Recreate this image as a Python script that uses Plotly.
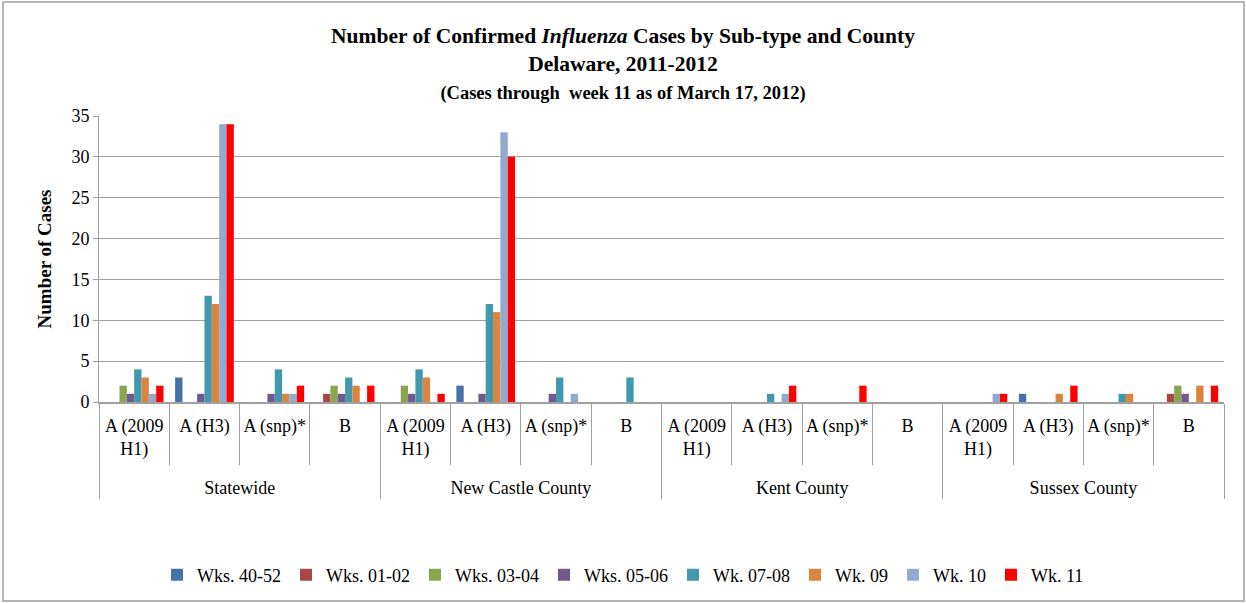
import plotly.graph_objects as go

counties = ["Statewide", "New Castle County", "Kent County", "Sussex County"]
subtypes = ["A (2009<br>H1)<br>\u00a0", "A (H3)", "A (snp)*", "B"]

series_names = ["Wks. 40-52", "Wks. 01-02", "Wks. 03-04", "Wks. 05-06",
                "Wk. 07-08", "Wk. 09", "Wk. 10", "Wk. 11"]
colors = ["#4572A7", "#AA4643", "#89A54E", "#71588F",
          "#4198AF", "#DB843D", "#93A9CF", "#FF0000"]

# values ordered: Statewide(4 subtypes), New Castle(4), Kent(4), Sussex(4)
wks_40_52 = [0, 3, 0, 0,  0, 2, 0, 0,  0, 0, 0, 0,  0, 1, 0, 0]
wks_01_02 = [0, 0, 0, 1,  0, 0, 0, 0,  0, 0, 0, 0,  0, 0, 0, 1]
wks_03_04 = [2, 0, 0, 2,  2, 0, 0, 0,  0, 0, 0, 0,  0, 0, 0, 2]
wks_05_06 = [1, 1, 1, 1,  1, 1, 1, 0,  0, 0, 0, 0,  0, 0, 0, 1]
wk_07_08 = [4, 13, 4, 3,  4, 12, 3, 3,  0, 1, 0, 0,  0, 0, 1, 0]
wk_09 = [3, 12, 1, 2,  3, 11, 0, 0,  0, 0, 0, 0,  0, 1, 1, 2]
wk_10 = [1, 34, 1, 0,  0, 33, 1, 0,  0, 1, 0, 0,  1, 0, 0, 0]
wk_11 = [2, 34, 2, 2,  1, 30, 0, 0,  0, 2, 2, 0,  1, 2, 0, 2]

all_series = [wks_40_52, wks_01_02, wks_03_04, wks_05_06, wk_07_08, wk_09, wk_10, wk_11]

outer = [c for c in counties for _ in subtypes]
inner = [s for _ in counties for s in subtypes]

SERIF = "Liberation Serif"

fig = go.Figure()
for name, vals, col in zip(series_names, all_series, colors):
    fig.add_trace(go.Bar(x=[outer, inner], y=vals, name=name,
                         marker=dict(color=col, line=dict(width=0))))

fig.update_layout(
    width=1246, height=603,
    barmode="group", bargap=0.165, bargroupgap=0,
    paper_bgcolor="white", plot_bgcolor="white",
    margin=dict(l=99, r=22, t=116, b=201),
    font=dict(family=SERIF, size=17, color="black"),
    title=dict(
        text="<b>Number of Confirmed <i>Influenza</i> Cases by Sub-type and County<br>"
             "Delaware, 2011-2012<br>"
             "<span style='font-size:18.5px'>(Cases through  week 11 as of March 17, 2012)</span></b>",
        x=0.5, xanchor="center", xref="container",
        y=1 - 43 / 603, yanchor="top", yref="container",
        font=dict(family=SERIF, size=21.5, color="black"),
    ),
    legend=dict(orientation="h", xref="container", yref="container",
                x=0.5, xanchor="center", y=1 - 575 / 603, yanchor="middle",
                font=dict(family=SERIF, size=18), itemwidth=30,
                traceorder="normal"),
    showlegend=True,
)

fig.update_yaxes(
    range=[0, 35], dtick=5, showgrid=True, gridcolor="#A0A0A0", gridwidth=1,
    showline=True, linecolor="#A0A0A0", linewidth=1,
    ticks="outside", ticklen=5, tickcolor="#A0A0A0",
    tickfont=dict(family=SERIF, size=18),
    title=dict(text="<b>Number of Cases</b>", font=dict(family=SERIF, size=19), standoff=14),
    zeroline=False,
)

fig.update_xaxes(
    type="multicategory",
    showline=True, linecolor="#A0A0A0", linewidth=2,
    ticks="outside", tickson="boundaries", ticklen=61, tickcolor="#A0A0A0",
    tickangle=0, ticklabelstandoff=6,
    showdividers=True, dividercolor="#A0A0A0", dividerwidth=1,
    tickfont=dict(family=SERIF, size=18),
)

# outer chart frame
fig.add_shape(type="rect", xref="paper", yref="paper",
              x0=(3 - 99) / 1125, x1=(1244 - 99) / 1125,
              y0=(402 - 601) / 286, y1=(402 - 2) / 286,
              line=dict(color="#A0A0A0", width=1.5), fillcolor="rgba(0,0,0,0)")

fig.write_html("out.html", config={"displayModeBar": False},
               post_script="document.body.style.margin='0';")
